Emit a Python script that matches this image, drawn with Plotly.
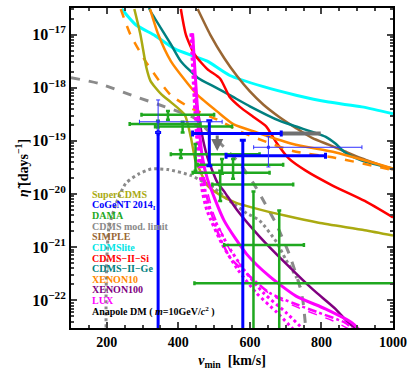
import numpy as np
import plotly.graph_objects as go

# curves: v_min [km/s] and log10(eta)
supercdms_x = [277, 294, 311, 322, 352, 379, 418, 435, 448, 460, 481, 517, 560, 610, 701, 792, 921, 1000]
supercdms_y = [-16.52, -17.0, -17.63, -17.87, -18.12, -18.27, -18.51, -18.93, -19.38, -19.55, -19.84, -20.02, -20.16, -20.26, -20.41, -20.54, -20.68, -20.78]

xenon10_x = [321, 344, 379, 426, 454, 509, 555, 619, 720, 840, 1000]
xenon10_y = [-16.52, -17.0, -17.50, -17.92, -18.14, -18.45, -18.69, -18.84, -19.06, -19.22, -19.52]
xenon10b_x = [239, 266, 308, 352, 379, 434, 509, 572, 638, 720, 840, 1000]
xenon10b_y = [-16.52, -17.0, -17.50, -17.92, -18.14, -18.38, -18.60, -18.82, -19.0, -19.19, -19.32, -19.55]

ge_x = [318, 324, 379, 407, 454, 500, 544, 600, 682, 729, 811, 839, 866, 913, 1000]
ge_y = [-16.50, -16.58, -17.18, -17.50, -17.81, -17.98, -18.14, -18.35, -18.62, -18.73, -18.92, -19.05, -19.22, -19.37, -19.52]

si_x = [407, 421, 445, 481, 517, 544, 572, 610, 646, 674, 710, 756, 831, 921, 1000]
si_y = [-16.52, -17.0, -17.37, -17.65, -17.83, -18.18, -18.36, -18.55, -18.73, -19.03, -19.34, -19.56, -19.84, -20.13, -20.44]

simple_x = [454, 489, 528, 564, 600, 638, 682, 729, 775, 820, 866, 913, 1000]
simple_y = [-16.52, -17.0, -17.44, -17.78, -18.07, -18.32, -18.55, -18.76, -18.95, -19.07, -19.2, -19.33, -19.54]

lite_x = [242, 280, 335, 390, 445, 481, 544, 638, 729, 820, 913, 1000]
lite_y = [-16.52, -16.81, -17.02, -17.27, -17.41, -17.50, -17.77, -17.98, -18.14, -18.27, -18.36, -18.49]

modlim_x = [100, 178, 269, 363, 445, 489, 528, 572, 610, 640, 674, 710, 737, 748, 756]
modlim_y = [-17.81, -17.92, -18.14, -18.36, -18.57, -18.85, -19.12, -19.43, -19.80, -20.15, -20.57, -21.13, -21.68, -22.0, -22.51]
modlim2_x = [198, 198, 200, 206, 225, 253, 290, 324, 371, 435, 500, 544, 591, 627, 674, 701, 729, 742]
modlim2_y = [-22.51, -21.9, -21.24, -20.63, -20.20, -19.80, -19.62, -19.53, -19.54, -19.65, -19.89, -20.13, -20.36, -20.50, -20.90, -21.24, -21.55, -21.75]
modseg_x = [688, 798]
modseg_y = [-18.86, -18.86]

x100_x = [448, 455, 462, 481, 509, 528, 564, 627, 701, 775, 839, 875, 900]
x100_y = [-18.2, -18.45, -18.75, -19.30, -19.78, -19.95, -20.30, -20.80, -21.31, -21.79, -22.16, -22.42, -22.55]

lux_x = [440, 454, 467, 481, 528, 591, 655, 729, 811, 885, 905]
lux_y = [-16.98, -18.42, -19.30, -19.71, -20.50, -21.13, -21.55, -21.92, -22.16, -22.42, -22.55]
luxb_x = [439, 452, 463, 476, 500, 544, 600, 660, 740, 830, 880]
luxb_y = [-16.98, -18.42, -19.34, -19.80, -20.40, -21.05, -21.55, -21.90, -22.15, -22.38, -22.55]
luxc_x = [440, 451, 462, 476, 509, 545, 600, 655, 720, 792, 866, 890]
luxc_y = [-16.98, -18.42, -19.34, -19.95, -20.70, -21.20, -21.55, -21.86, -22.05, -22.23, -22.42, -22.55]
luxd_x = [437, 448, 459, 472, 489, 536, 583, 638, 701, 750]
luxd_y = [-16.98, -18.42, -19.34, -19.95, -20.31, -20.94, -21.42, -21.86, -22.23, -22.55]
luxe_x = [435, 446, 456, 467, 480, 522, 566, 618, 676, 722]
luxe_y = [-16.98, -18.42, -19.34, -19.95, -20.31, -20.94, -21.42, -21.86, -22.23, -22.55]

# DAMA points: x, x_lo, x_hi, log eta, lo, hi  (None = no bar)
dama_x = [371, 343, 412, 407, 448, 522, 553, 517, 610, 682]
dama_xlo = [297, 264, 335, 379, None, 454, 440, 495, 528, 445]
dama_xhi = [500, 462, 550, 627, None, 693, 655, 721, 751, 1100]
dama_y = [-18.51, -18.68, -18.73, -19.25, -19.34, -19.45, -19.60, -19.82, -20.96, -21.68]
dama_ylo = [-18.60, -18.75, -18.84, -19.32, -19.56, -19.62, -19.71, -20.13, -24, -24]
dama_yhi = [-18.44, -18.62, -18.64, -19.17, -19.06, -19.34, -19.34, -19.56, -19.95, -20.31]

# CoGeNT 2014 thick bars
cog_x = [343.5, 486.6, 580.2]
cog_xlo = [None, 439.9, 533.4]
cog_xhi = [None, 687.6, 811.4]
cog_y = [-18.84, -18.86, -19.28]
cog_ylo = [-24, -19.47, -24]
cog_yhi = [-18.84, -18.62, -18.99]
# CoGeNT thin crosses
cogt_x = [343.5, 651.8]
cogt_xlo = [291.3, 610.5]
cogt_xhi = [522.4, 913.2]
cogt_y = [-18.64, -19.12]
cogt_ylo = [-18.84, -19.49]
cogt_yhi = [-18.23, -18.92]

P = lambda v: np.power(10.0, np.array(v, dtype=float))

fig = go.Figure()


def curve(x, y, color, width=2.5, dash="solid"):
    fig.add_trace(go.Scatter(x=x, y=P(y), mode="lines",
                             line=dict(color=color, width=width, dash=dash, shape="spline", smoothing=0.6),
                             showlegend=False, hoverinfo="skip"))


def bars(x, xlo, xhi, y, ylo, yhi, color, thick, cap, msize=1, mop=0):
    ex_p = [None if h is None else h - c for c, h in zip(x, xhi)]
    ex_m = [None if l is None else c - l for c, l in zip(x, xlo)]
    yc = P(y)
    ey_p = [10 ** h - v for v, h in zip(yc, yhi)]
    ey_m = [v - 10 ** l for v, l in zip(yc, ylo)]
    fig.add_trace(go.Scatter(
        x=x, y=yc, mode="markers",
        marker=dict(color=color, size=msize, symbol="square", opacity=mop),
        error_x=dict(type="data", symmetric=False, array=ex_p, arrayminus=ex_m,
                     color=color, thickness=thick, width=cap),
        error_y=dict(type="data", symmetric=False, array=ey_p, arrayminus=ey_m,
                     color=color, thickness=thick, width=cap),
        showlegend=False, hoverinfo="skip"))


GREY = "#8a8a8a"
curve(modlim_x, modlim_y, GREY, 3, "dash")
curve(modlim2_x, modlim2_y, GREY, 3, "dot")
curve(lite_x, lite_y, "#00ffff", 3)
curve(simple_x, simple_y, "#996633")
curve(ge_x, ge_y, "#008080")
curve(si_x, si_y, "#ff0000")
curve(xenon10b_x, xenon10b_y, "#ff8800", 2.5, "dash")
curve(xenon10_x, xenon10_y, "#ff8800")
curve(supercdms_x, supercdms_y, "#aaaa11")
curve(x100_x, x100_y, "#800080")
curve(luxe_x, luxe_y, "#ff00ff", 3, "dot")
curve(luxd_x, luxd_y, "#ff00ff", 3, "dot")
curve(luxc_x, luxc_y, "#ff00ff", 2.5, "dashdot")
curve(luxb_x, luxb_y, "#ff00ff", 1.5, "dash")
curve(lux_x, lux_y, "#ff00ff", 3)

bars(dama_x, dama_xlo, dama_xhi, dama_y, dama_ylo, dama_yhi, "#1fa81f", 2.5, 2)
fig.add_trace(go.Scatter(x=modseg_x, y=P(modseg_y), mode="lines",
                         line=dict(color="#707070", width=4), showlegend=False))
bars(cog_x, cog_xlo, cog_xhi, cog_y, cog_ylo, cog_yhi, "#0000ff", 3, 3)
bars(cogt_x, cogt_xlo, cogt_xhi, cogt_y, cogt_ylo, cogt_yhi, "#3030ff", 1, 2, 3, 1)

fig.add_annotation(x=508.7, y=-19.19, xref="x", yref="y", ax=0, ay=-17,
                   showarrow=True, arrowhead=2, arrowsize=0.8, arrowwidth=3, arrowcolor="#707070", text="")

legend_names = ["SuperCDMS", "CoGeNT 2014<sub>I</sub>", "DAMA", "CDMS mod. limit", "SIMPLE", "CDMSlite",
                "CDMS\u2212II\u2212Si", "CDMS\u2212II\u2212Ge", "XENON10", "XENON100", "LUX",
                "Anapole DM ( <i>m</i>=10GeV/<i>c</i><sup>2</sup> )"]
legend_colors = ["#aaaa11", "#0000ff", "#1fa81f", GREY, "#996633", "#00e5e5", "#ff0000", "#008080",
                 "#ff8800", "#800080", "#ff00ff", "#000000"]
for i, (name, col) in enumerate(zip(legend_names, legend_colors)):
    fig.add_annotation(x=0.058, y=0.417 - i * 0.0331, xref="paper", yref="paper",
                       xanchor="left", yanchor="middle", showarrow=False, text="<b>%s</b>" % name,
                       font=dict(family="Liberation Serif", size=10, color=col))

ytv = [1e-22, 1e-21, 1e-20, 1e-19, 1e-18, 1e-17]
ytt = ["<b>10<sup>\u2212%d</sup></b>" % k for k in [22, 21, 20, 19, 18, 17]]
yminor = [m * 10.0 ** e for e in range(-23, -16) for m in range(2, 10)]

fig.update_layout(
    width=413, height=372, margin=dict(l=71, r=15, t=6, b=40),
    plot_bgcolor="white", paper_bgcolor="white",
    font=dict(family="Liberation Serif", color="black"),
    xaxis=dict(range=[100, 1000], tickvals=[200, 400, 600, 800, 1000],
               ticks="inside", ticklen=6, tickwidth=1.5, mirror="allticks", showline=True,
               linecolor="black", linewidth=2, showgrid=False, zeroline=False,
               tickfont=dict(family="Liberation Serif", size=14, weight="bold"),
               minor=dict(dtick=50, ticks="inside", ticklen=3, showgrid=False),
               title=dict(text="<b><i>v</i><sub>min</sub>  [km/s]</b>", standoff=6,
                          font=dict(family="Liberation Serif", size=14))),
    yaxis=dict(type="log", range=[-22.52, -16.5], tickvals=ytv, ticktext=ytt,
               ticks="inside", ticklen=6, tickwidth=1.5, mirror="allticks", showline=True,
               linecolor="black", linewidth=2, showgrid=False, zeroline=False,
               tickfont=dict(family="Liberation Serif", size=16),
               minor=dict(tickvals=yminor, ticks="inside", ticklen=3, showgrid=False),
               title=dict(text="<b><i>\u03b7\u0303</i> [days<sup>\u22121</sup>]</b>", standoff=0,
                          font=dict(family="Liberation Serif", size=14))),
)

fig.write_html("out.html", config={"displayModeBar": False},
               post_script="document.body.style.margin='0';")
